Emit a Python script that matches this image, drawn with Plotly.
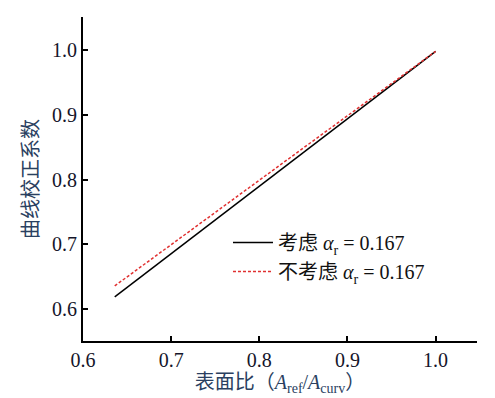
import plotly.graph_objects as go

# Data
x_consider = [0.636, 1.0]
y_consider = [0.619, 0.998]
x_ignore = [0.636, 1.0]
y_ignore = [0.636, 0.998]
name_consider = "考虑 <i>α</i><sub>r</sub> = 0.167"
name_ignore = "不考虑 <i>α</i><sub>r</sub> = 0.167"
x_ticks = [0.6, 0.7, 0.8, 0.9, 1.0]
y_ticks = [0.6, 0.7, 0.8, 0.9, 1.0]

serif = "Liberation Serif"
cjk = "Liberation Serif, Noto Sans CJK SC"
tickcolor = "#15152a"

fig = go.Figure()
fig.add_trace(go.Scatter(x=x_consider, y=y_consider, mode="lines", name=name_consider,
                         line=dict(color="black", width=1.5)))
fig.add_trace(go.Scatter(x=x_ignore, y=y_ignore, mode="lines", name=name_ignore,
                         line=dict(color="#e03030", width=1.5, dash="3px,2px")))

# page body adds an 8px margin, so the figure is 8px smaller and shifted
fig.update_layout(
    width=487, height=390,
    margin=dict(l=75, r=18, t=9, b=57),
    paper_bgcolor="white", plot_bgcolor="white",
    font=dict(family=cjk, size=19, color=tickcolor),
    showlegend=True,
    legend=dict(x=0.368, y=0.364, xanchor="left", yanchor="top",
                bgcolor="rgba(0,0,0,0)", font=dict(family=cjk, size=20, color="#111111"),
                tracegroupgap=0, itemwidth=40),
)
fig.update_xaxes(range=[0.6, 1.047], tickvals=x_ticks, ticktext=[f"{v:.1f}" for v in x_ticks],
                 showline=True, linecolor="black", linewidth=2, mirror=False,
                 ticks="inside", ticklen=5, tickwidth=1.5, tickcolor="black",
                 showgrid=False, zeroline=False, automargin=False,
                 tickfont=dict(family=serif, size=20, color=tickcolor),
                 title=dict(text="表面比（<i>A</i><sub>ref</sub>/<i>A</i><sub>curv</sub>）",
                            font=dict(family=cjk, size=20, color="#2a3f5f"), standoff=4))
fig.update_yaxes(range=[0.551, 1.051], tickvals=y_ticks, ticktext=[f"{v:.1f}" for v in y_ticks],
                 showline=True, linecolor="black", linewidth=2, mirror=False,
                 ticks="inside", ticklen=5, tickwidth=1.5, tickcolor="black",
                 showgrid=False, zeroline=False, automargin=False,
                 tickfont=dict(family=serif, size=20, color=tickcolor),
                 title=dict(text="曲线校正系数", font=dict(family=cjk, size=20, color="#2a4060"),
                            standoff=8))

fig.write_html("out.html")
